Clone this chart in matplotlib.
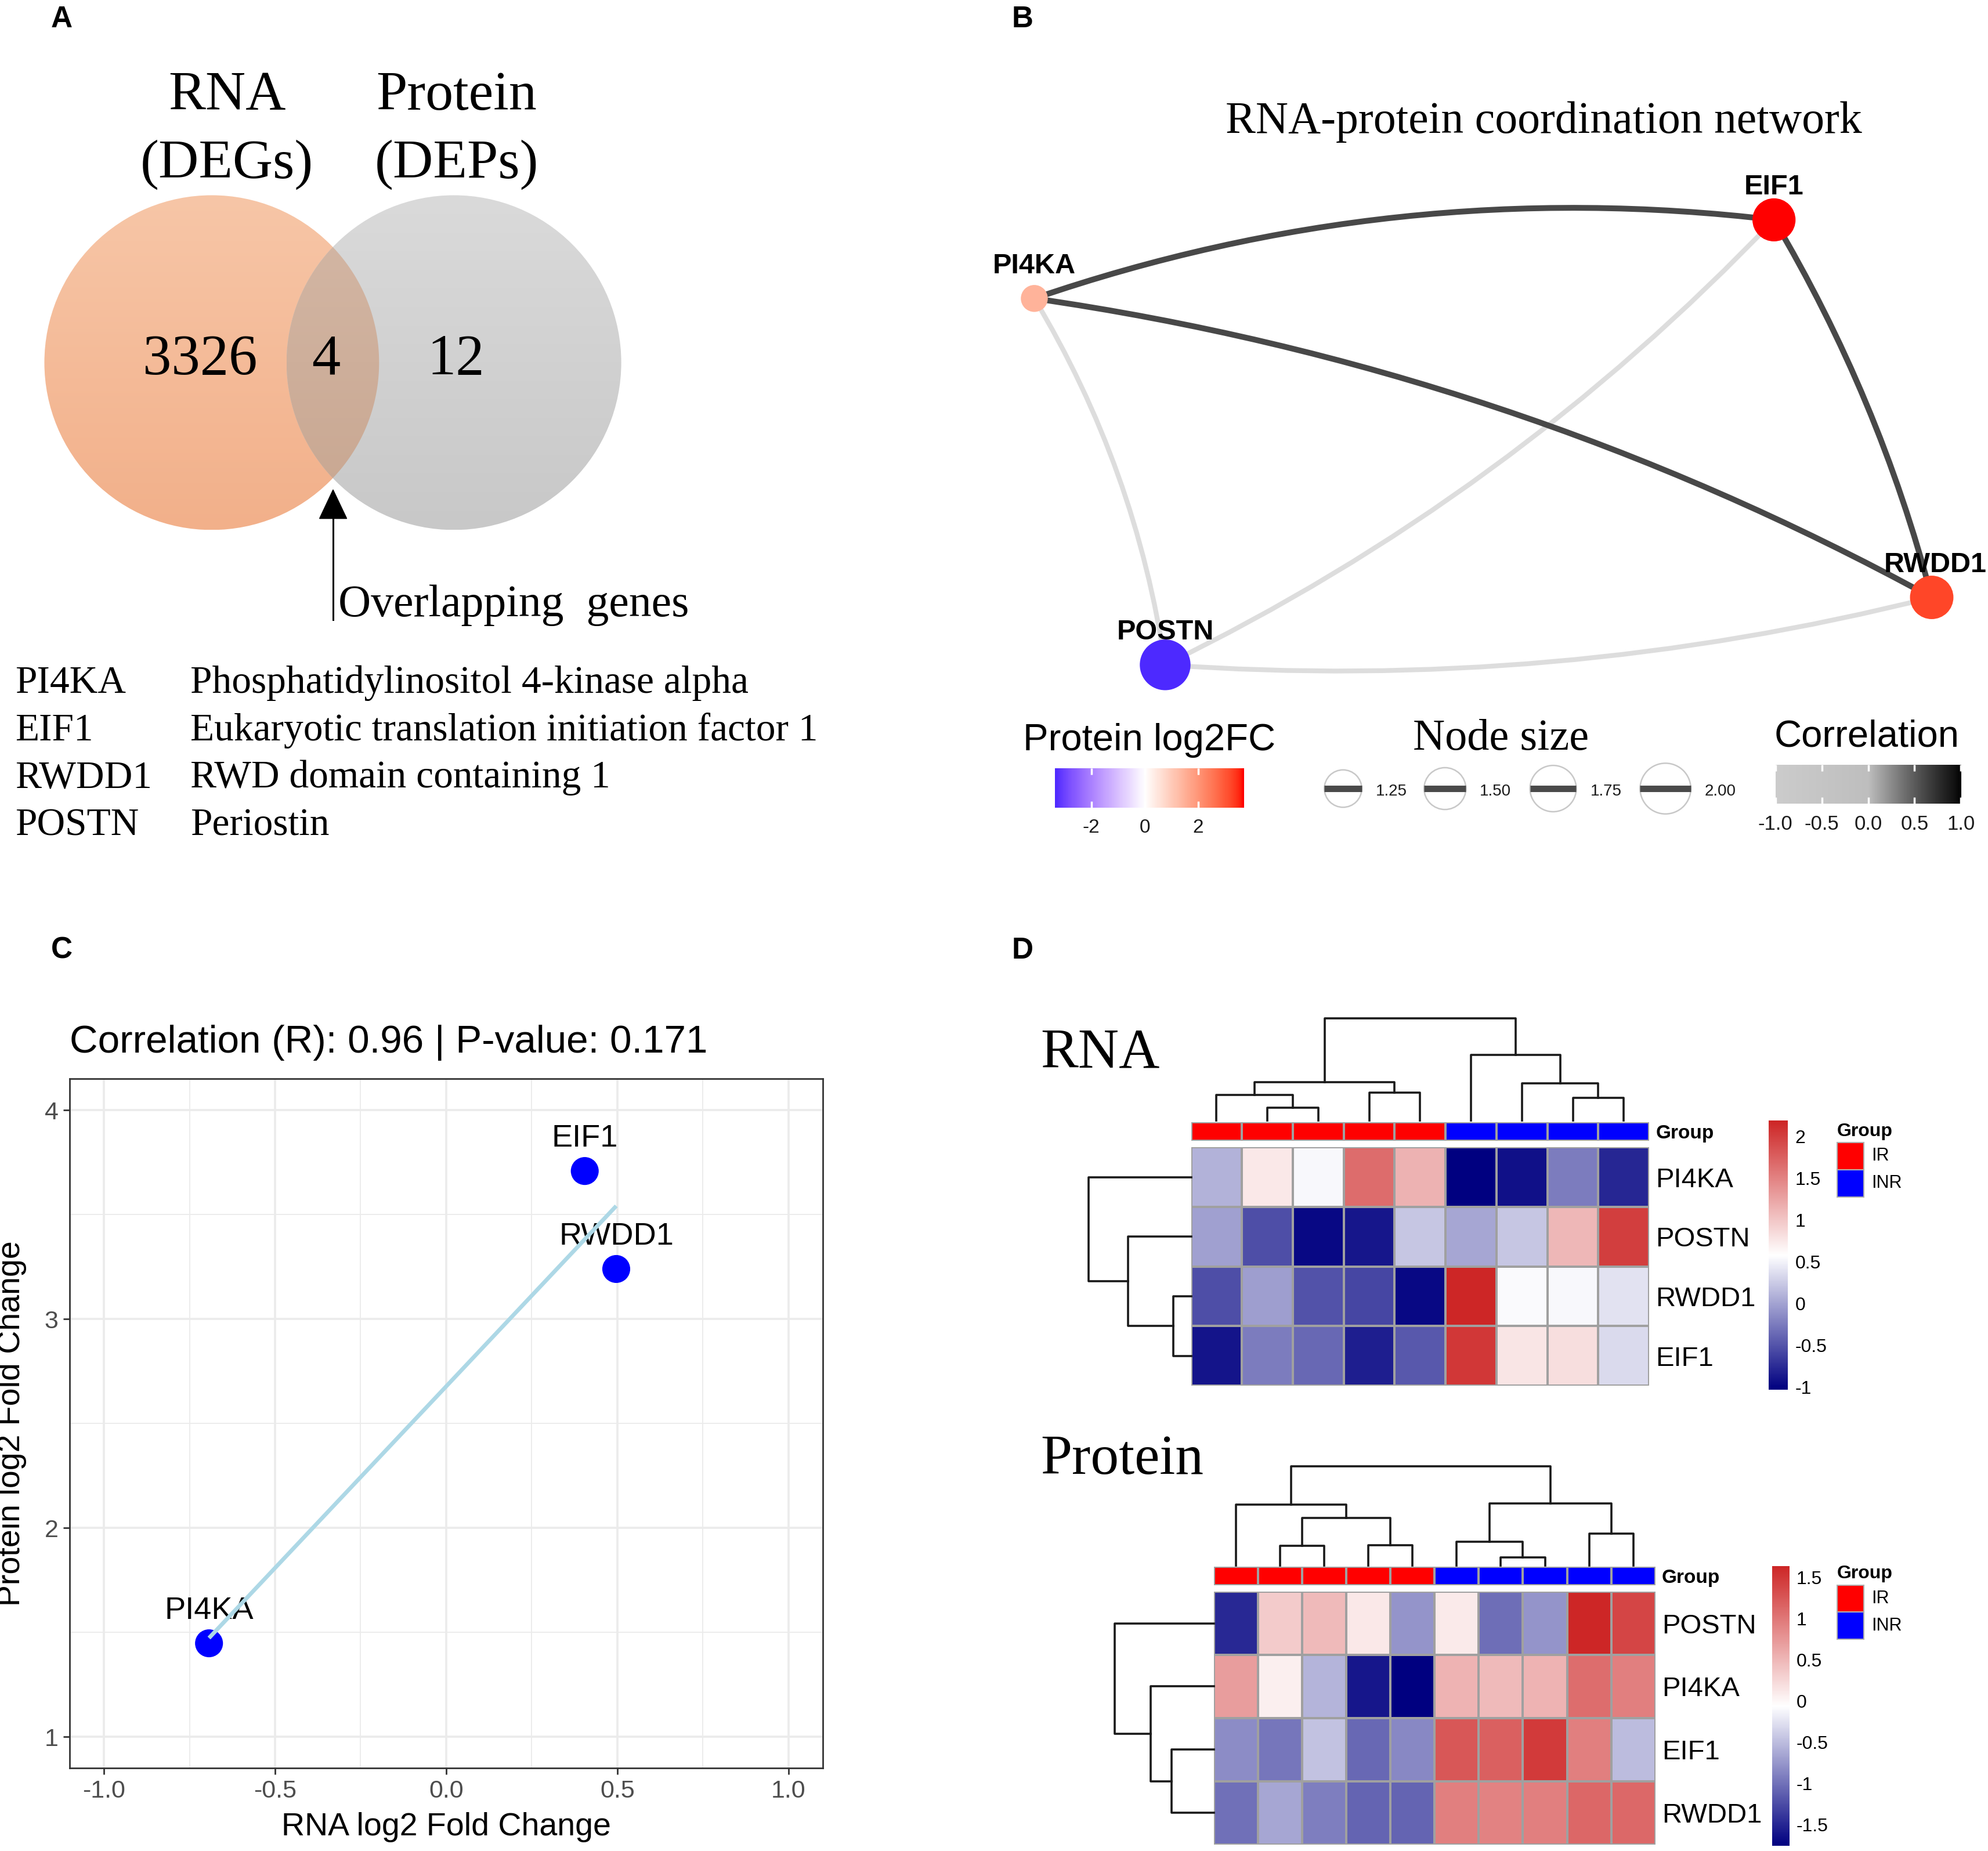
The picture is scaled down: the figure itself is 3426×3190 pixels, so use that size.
import numpy as np
import matplotlib
matplotlib.use('Agg')
import matplotlib.pyplot as plt
from matplotlib.cm import ScalarMappable
from matplotlib.colors import ListedColormap, LinearSegmentedColormap, Normalize, to_rgb
from matplotlib.patches import Circle, FancyArrowPatch, Rectangle, Polygon

# layout grid used for placing everything (reference pixels / 2.185)
W, H = 1568.0, 1460.0
SANS = 'Liberation Sans'
SERIF = 'Liberation Serif'

# ---------------- A: Venn ----------------
venn_sets = [('RNA', '(DEGs)'), ('Protein', '(DEPs)')]
venn_counts = [3326, 4, 12]          # RNA only, both, protein only
gene_ids = ['PI4KA', 'EIF1', 'RWDD1', 'POSTN']
gene_desc = ['Phosphatidylinositol 4-kinase alpha',
             'Eukaryotic translation initiation factor 1',
             'RWD domain containing 1',
             'Periostin']

# ---------------- B: network ----------------
net_nodes = ['PI4KA', 'EIF1', 'RWDD1', 'POSTN']
net_log2fc = [1.45, 3.71, 3.24, -3.36]
net_size = [0.66, 1.57, 1.59, 2.0]
net_edges = [('PI4KA', 'POSTN'), ('EIF1', 'POSTN'), ('POSTN', 'RWDD1'),
             ('PI4KA', 'EIF1'), ('PI4KA', 'RWDD1'), ('EIF1', 'RWDD1')]
net_corr = [-1.0, -1.0, -1.0, 0.6, 0.6, 0.6]
size_breaks = [1.25, 1.50, 1.75, 2.00]
fc_ticks = [-2, 0, 2]
corr_ticks = [-1.0, -0.5, 0.0, 0.5, 1.0]

# ---------------- C: scatter ----------------
sc_genes = ['PI4KA', 'EIF1', 'RWDD1']
sc_rna = [-0.693, 0.405, 0.497]
sc_prot = [1.448, 3.709, 3.24]
corr_r, corr_p = 0.96, 0.171

# ---------------- D: heatmaps ----------------
rna_rows = ['PI4KA', 'POSTN', 'RWDD1', 'EIF1']
rna_groups = ['IR'] * 5 + ['INR'] * 4
rna_vals = np.array([
    [0.10, 0.75, 0.53, 1.67, 1.15, -1.03, -0.92, -0.24, -0.79],
    [-0.02, -0.53, -0.97, -0.89, 0.22, 0.02, 0.22, 1.12, 2.01],
    [-0.53, -0.03, -0.51, -0.58, -0.97, 2.19, 0.55, 0.53, 0.40],
    [-0.90, -0.24, -0.37, -0.84, -0.47, 2.06, 0.77, 0.82, 0.35],
])
# trees: (height, left, right); ints are leaf positions
rna_col_tree = (4.04, (1.52, (1.02, 0, (0.52, 1, 2)), (1.12, 3, 4)),
                (2.59, 5, (1.47, 6, (0.91, 7, 8))))
rna_row_tree = (4.03, 0, (2.47, 1, (0.69, 2, 3)))
rna_ticks = [-1, -0.5, 0, 0.5, 1, 1.5, 2]

prot_rows = ['POSTN', 'PI4KA', 'EIF1', 'RWDD1']
prot_groups = ['IR'] * 5 + ['INR'] * 5
prot_vals = np.array([
    [-1.49, 0.34, 0.48, 0.12, -0.77, 0.10, -1.02, -0.77, 1.64, 1.39],
    [0.70, 0.07, -0.56, -1.61, -1.76, 0.53, 0.48, 0.53, 1.08, 0.94],
    [-0.82, -0.97, -0.46, -1.06, -0.85, 1.25, 1.18, 1.47, 0.94, -0.50],
    [-1.01, -0.65, -0.92, -1.09, -1.09, 0.94, 0.92, 0.94, 1.13, 1.11],
])
prot_col_tree = (3.90, (2.40, 0, (1.86, (0.76, 1, 2), (0.79, 3, 4))),
                 (2.44, (0.93, 5, (0.32, 6, 7)), (1.24, 8, 9)))
prot_row_tree = (3.92, 0, (2.50, 1, (1.67, 2, 3)))
prot_ticks = [-1.5, -1, -0.5, 0, 0.5, 1, 1.5]
group_names = ['IR', 'INR']
group_colors = ['#FF0000', '#0000FF']


def rect(x0, y0, x1, y1):
    return [x0 / W, 1 - y1 / H, (x1 - x0) / W, (y1 - y0) / H]


# CIELab interpolation (like ggplot gradients)
def _lab(rgb):
    c = np.asarray(rgb, float)
    lin = np.where(c > 0.04045, ((c + 0.055) / 1.055) ** 2.4, c / 12.92)
    M = np.array([[0.4124, 0.3576, 0.1805], [0.2126, 0.7152, 0.0722], [0.0193, 0.1192, 0.9505]])
    xyz = M @ lin / np.array([0.9505, 1.0, 1.089])
    f = np.where(xyz > 0.008856, np.cbrt(xyz), 7.787 * xyz + 16 / 116)
    return np.array([116 * f[1] - 16, 500 * (f[0] - f[1]), 200 * (f[1] - f[2])])


def _rgb(lab):
    L, a, b = lab
    fy = (L + 16) / 116
    f = np.array([fy + a / 500, fy, fy - b / 200])
    xyz = np.where(f > 0.2069, f ** 3, (f - 16 / 116) / 7.787) * np.array([0.9505, 1.0, 1.089])
    Minv = np.array([[3.2406, -1.5372, -0.4986], [-0.9689, 1.8758, 0.0415], [0.0557, -0.2040, 1.0570]])
    lin = Minv @ xyz
    c = np.where(lin > 0.0031308, 1.055 * np.clip(lin, 0, None) ** (1 / 2.4) - 0.055, 12.92 * lin)
    return np.clip(c, 0, 1)


def lab_cmap(colors, n=256):
    labs = [_lab(to_rgb(c)) for c in colors]
    out = []
    for t in np.linspace(0, 1, n):
        seg = min(int(t * (len(labs) - 1)), len(labs) - 2)
        u = t * (len(labs) - 1) - seg
        out.append(_rgb(labs[seg] * (1 - u) + labs[seg + 1] * u))
    return ListedColormap(out)


fig = plt.figure(figsize=(34.26, 31.90), dpi=100)
ov = fig.add_axes([0, 0, 1, 1])
ov.set_autoscale_on(False)
ov.set_xlim(0, W)
ov.set_ylim(H, 0)
ov.axis('off')

for lab, x, y in [('A', 40, 21.6), ('B', 798, 21.7), ('C', 40, 756), ('D', 798, 756)]:
    ov.text(x, y, lab, family=SANS, fontsize=37, fontweight='bold', va='baseline')

# ---------------- panel A ----------------
venn_xy = [(167, 286), (358, 286)]
venn_r = 132
venn_grad = [('#F7C6A7', '#F2B08A'), ('#DADADA', '#C8C8C8')]


def grad_fill(clip, top, bot, y0, y1, x0, x1):
    g = np.linspace(0, 1, 256)[:, None, None]
    img = (1 - g) * np.array(to_rgb(top)) + g * np.array(to_rgb(bot))
    img = np.repeat(img, 2, axis=1)
    im = ov.imshow(img, extent=(x0, x1, y1, y0), origin='upper', aspect='auto',
                   interpolation='bilinear', zorder=1)
    im.set_clip_path(clip)


for (cx, cy), (top, bot) in zip(venn_xy, venn_grad):
    c = Circle((cx, cy), venn_r, facecolor='none', edgecolor='none')
    ov.add_patch(c)
    grad_fill(c, top, bot, cy - venn_r, cy + venn_r, cx - venn_r, cx + venn_r)

(c1x, c1y), (c2x, c2y) = venn_xy
th = np.arccos((c2x - c1x) / (2 * venn_r))
a1 = np.linspace(-th, th, 200)
a2 = np.linspace(np.pi - th, np.pi + th, 200)
lens_pts = np.vstack([np.c_[c1x + venn_r * np.cos(a1), c1y + venn_r * np.sin(a1)],
                      np.c_[c2x + venn_r * np.cos(a2), c2y + venn_r * np.sin(a2)]])
lens = Polygon(lens_pts, closed=True, facecolor='none', edgecolor='none')
ov.add_patch(lens)
grad_fill(lens, '#D4B8A6', '#C8A690', c1y - venn_r, c1y + venn_r, c2x - venn_r, c1x + venn_r)

for (name, sub), cx in zip(venn_sets, [179, 360]):
    ov.text(cx, 86.4, name, family=SERIF, fontsize=69, ha='center', va='baseline')
    ov.text(cx, 140.4, sub, family=SERIF, fontsize=69, ha='center', va='baseline')

for n, x in zip(venn_counts, [158, 257.3, 359.8]):
    ov.text(x, 295, str(n), family=SERIF, fontsize=71, ha='center', va='baseline', zorder=3)

ov.plot([262.7, 262.7], [405, 489], color='black', lw=2.2, zorder=3)
ov.add_patch(Polygon([(252, 409), (273.5, 409), (262.7, 386.3)], closed=True,
                     facecolor='black', edgecolor='black', zorder=3))
ov.text(267, 486, 'Overlapping  genes', family=SERIF, fontsize=56, va='baseline')

for i, (gid, desc) in enumerate(zip(gene_ids, gene_desc)):
    yb = 546.5 + 37.4 * i
    ov.text(11.8, yb, gid, family=SERIF, fontsize=48.5, va='baseline')
    ov.text(150.2, yb, desc, family=SERIF, fontsize=48.5, va='baseline')

# ---------------- panel B ----------------
ov.text(1217.5, 105, 'RNA-protein coordination network', family=SERIF, fontsize=56,
        ha='center', va='baseline')

node_xy = {'PI4KA': (815.8, 235.4), 'EIF1': (1399.2, 173.4),
           'RWDD1': (1523.6, 471.2), 'POSTN': (919.0, 524.4)}
edge_rad = [-0.10, -0.09, 0.08, -0.114, -0.09, -0.07]

edge_cmap = lab_cmap(['#CCCCCC', '#BEBEBE', '#000000'])
corr_norm = Normalize(-1, 1)
fc_cmap = lab_cmap(['#0000FF', '#FFFFFF', '#FF0000'])
fc_lim = max(abs(v) for v in net_log2fc)
fc_norm = Normalize(-fc_lim, fc_lim)


def node_radius(s):
    return 6 + 7 * s


for (a, b), corr, rad in zip(net_edges, net_corr, edge_rad):
    e = FancyArrowPatch(node_xy[a], node_xy[b], connectionstyle=f'arc3,rad={rad}',
                        arrowstyle='-', color=edge_cmap(corr_norm(corr)),
                        alpha=1.0 if corr > 0 else 0.65,
                        lw=7.2 if corr > 0 else 6.0, shrinkA=0, shrinkB=0,
                        zorder=2 if corr > 0 else 1)
    e.set_capstyle('round')
    ov.add_patch(e)

for name, fc, s in zip(net_nodes, net_log2fc, net_size):
    x, y = node_xy[name]
    ov.add_patch(Circle((x, y), node_radius(s), facecolor=fc_cmap(fc_norm(fc)),
                        edgecolor='none', zorder=4))
    ov.text(x + (3 if name == 'RWDD1' else 0), y - 20, name, family=SANS, fontsize=35,
            fontweight='bold', ha='center', va='baseline', zorder=5)

# legend: protein log2FC
ov.text(906.5, 591.8, 'Protein log2FC', family=SANS, fontsize=47, ha='center', va='baseline')
fc_lo, fc_hi = min(net_log2fc), max(net_log2fc)
cax = fig.add_axes(rect(832, 606, 981, 637))
grad = np.linspace(fc_lo, fc_hi, 256)[None, :]
cax.imshow(grad, cmap=fc_cmap, norm=fc_norm, aspect='auto', extent=(fc_lo, fc_hi, 0, 1))
cax.set_yticks([])
cax.set_xticks(fc_ticks)
cax.set_xticklabels([str(t) for t in fc_ticks], family=SANS, fontsize=24, color='#1A1A1A')
cax.tick_params(axis='x', direction='in', length=8, width=2.5, color='white',
                top=True, bottom=True, pad=14)
for sp in cax.spines.values():
    sp.set_visible(False)

# legend: node size
ov.text(1183.7, 591.3, 'Node size', family=SERIF, fontsize=55, ha='center', va='baseline')
for s, kx in zip(size_breaks, [1059.3, 1139.7, 1225.0, 1313.6]):
    r = node_radius(s)
    ov.add_patch(Circle((kx, 622), r, facecolor='white', edgecolor='#C8C8C8', lw=1.8, zorder=3))
    ov.plot([kx - r, kx + r], [622, 622], color='#4A4A4A', lw=8, solid_capstyle='butt', zorder=4)
    ov.text(kx + r + 11, 627.4, f'{s:.2f}', family=SANS, fontsize=20, color='#1A1A1A',
            va='baseline')

# legend: correlation
ov.text(1472.5, 589, 'Correlation', family=SANS, fontsize=47, ha='center', va='baseline')
cax2 = fig.add_axes(rect(1400.4, 603, 1546.6, 633.8))
cax2.imshow(np.linspace(-1, 1, 256)[None, :], cmap=edge_cmap, norm=corr_norm, aspect='auto',
            extent=(-1, 1, 0, 1))
cax2.set_yticks([])
cax2.set_xticks(corr_ticks)
cax2.set_xticklabels([f'{t:.1f}' for t in corr_ticks], family=SANS, fontsize=25, color='#1A1A1A')
cax2.tick_params(axis='x', direction='in', length=8, width=2.5, color='white',
                 top=True, bottom=True, pad=14)
for sp in cax2.spines.values():
    sp.set_visible(False)

# ---------------- panel C ----------------
axc = fig.add_axes(rect(55, 851, 648.8, 1394.7))
axc.set_xlim(-1.1, 1.1)
axc.set_ylim(0.85, 4.15)
axc.set_xticks([-1.0, -0.5, 0.0, 0.5, 1.0])
axc.set_xticks([-0.75, -0.25, 0.25, 0.75], minor=True)
axc.set_yticks([1, 2, 3, 4])
axc.set_yticks([1.5, 2.5, 3.5], minor=True)
axc.set_xticklabels(['-1.0', '-0.5', '0.0', '0.5', '1.0'])
axc.grid(which='major', color='#EBEBEB', lw=2.6)
axc.grid(which='minor', color='#EBEBEB', lw=1.3)
axc.set_axisbelow(True)
axc.tick_params(which='major', length=8, width=2, color='#333333', labelsize=31,
                labelcolor='#4D4D4D', pad=6)
axc.tick_params(which='minor', length=0)
for lab in axc.get_xticklabels() + axc.get_yticklabels():
    lab.set_family(SANS)
for sp in axc.spines.values():
    sp.set_color('#333333')
    sp.set_linewidth(2)

axc.scatter(sc_rna, sc_prot, s=1200, color='blue', edgecolors='none', zorder=2)
for g, x, y in zip(sc_genes, sc_rna, sc_prot):
    axc.annotate(g, (x, y), xytext=(0, 30), textcoords='offset points', ha='center',
                 va='baseline', family=SANS, fontsize=39, zorder=3)
fit = np.polyfit(sc_rna, sc_prot, 1)
xs = np.array([min(sc_rna), max(sc_rna)])
axc.plot(xs, np.polyval(fit, xs), color='#ADD8E6', lw=5, solid_capstyle='butt', zorder=4)

axc.text(0, 1.0386, f'Correlation (R): {corr_r} | P-value: {corr_p}', transform=axc.transAxes,
         family=SANS, fontsize=48.5, va='baseline')
axc.set_xlabel('RNA log2 Fold Change', family=SANS, fontsize=40)
axc.set_ylabel('Protein log2 Fold Change', family=SANS, fontsize=40)
axc.xaxis.set_label_coords(0.5, -0.064)
axc.yaxis.set_label_coords(-0.057, 0.5)

# ---------------- panel D ----------------
heat_cmap = LinearSegmentedColormap.from_list('nwf', ['#000080', '#FFFFFF', '#CD2626'])
grp_cmap = ListedColormap(group_colors)


def draw_tree(ax, node, top):
    if isinstance(node, int):
        return node + 0.5, 0.0
    h, a, b = node
    pa, ha = draw_tree(ax, a, top)
    pb, hb = draw_tree(ax, b, top)
    p = [pa, pa, pb, pb]
    q = [ha, h, h, hb]
    if top:
        ax.plot(p, q, color='#1A1A1A', lw=2.6, clip_on=False, solid_capstyle='projecting')
    else:
        ax.plot(q, p, color='#1A1A1A', lw=2.6, clip_on=False, solid_capstyle='projecting')
    return (pa + pb) / 2, h


def heatmap(vals, rows, groups, col_tree, row_tree, ticks, L):
    nr, nc = vals.shape
    x0, x1 = L['x']
    norm = Normalize(vals.min(), vals.max())

    ax = fig.add_axes(rect(x0, L['hy'][0], x1, L['hy'][1]))
    ax.pcolormesh(vals, cmap=heat_cmap, norm=norm, edgecolors='#A0A0A0', linewidth=1.5)
    ax.set_xlim(0, nc)
    ax.set_ylim(nr, 0)
    ax.set_xticks([])
    ax.yaxis.tick_right()
    ax.set_yticks(np.arange(nr) + 0.5)
    ax.set_yticklabels(rows, family=SANS, fontsize=34)
    ax.tick_params(axis='y', length=0, pad=L['pad'])
    for sp in ax.spines.values():
        sp.set_visible(False)

    axa = fig.add_axes(rect(x0, L['ay'][0], x1, L['ay'][1]))
    codes = np.array([[group_names.index(g) for g in groups]])
    axa.pcolormesh(codes, cmap=grp_cmap, vmin=0, vmax=1, edgecolors='#A0A0A0', linewidth=1.5)
    axa.set_xlim(0, nc)
    axa.set_xticks([])
    axa.yaxis.tick_right()
    axa.set_yticks([0.5])
    axa.set_yticklabels(['Group'], family=SANS, fontsize=24, fontweight='bold')
    axa.tick_params(axis='y', length=0, pad=L['pad'])
    for sp in axa.spines.values():
        sp.set_visible(False)

    axt = fig.add_axes(rect(x0, L['cy'][0], x1, L['cy'][1]))
    axt.set_xlim(0, nc)
    axt.set_ylim(0, col_tree[0])
    draw_tree(axt, col_tree, True)
    axt.axis('off')

    axr = fig.add_axes(rect(L['rx'], L['hy'][0], x0, L['hy'][1]))
    axr.set_ylim(nr, 0)
    axr.set_xlim(row_tree[0], 0)
    draw_tree(axr, row_tree, False)
    axr.axis('off')

    cx = fig.add_axes(rect(*L['cb']))
    cb = fig.colorbar(ScalarMappable(norm=norm, cmap=heat_cmap), cax=cx, ticks=ticks)
    cb.outline.set_visible(False)
    cb.set_ticklabels([f'{t:g}' for t in ticks])
    cx.tick_params(length=0, labelsize=23, pad=9)
    for lab in cx.get_yticklabels():
        lab.set_family(SANS)

    lx, ty = L['leg']
    ov.text(lx, ty, 'Group', family=SANS, fontsize=23, fontweight='bold', va='baseline')
    for i, (gn, gc) in enumerate(zip(group_names, group_colors)):
        by = ty + 5.2 + 21.4 * i
        ov.add_patch(Rectangle((lx, by), 21, 21.4, facecolor=gc, edgecolor='#B0B0B0', lw=1.5))
        ov.text(lx + 27, by + 10.7, gn, family=SANS, fontsize=22, va='center')

    ov.text(820.6, L['title_y'], L['title'], family=SERIF, fontsize=70, va='baseline')


heatmap(rna_vals, rna_rows, rna_groups, rna_col_tree, rna_row_tree, rna_ticks,
        dict(x=(939.4, 1300.8), hy=(905, 1093), ay=(885.1, 899.8), cy=(803.2, 884),
             rx=858.7, pad=8, cb=(1395, 884, 1410, 1096), leg=(1449, 896),
             title='RNA', title_y=842))
heatmap(prot_vals, prot_rows, prot_groups, prot_col_tree, prot_row_tree, prot_ticks,
        dict(x=(957.5, 1305.6), hy=(1255.5, 1454.8), ay=(1235.7, 1250.3), cy=(1156.6, 1234.6),
             rx=879.2, pad=8, cb=(1397.6, 1235.2, 1411.3, 1455.9), leg=(1449, 1245),
             title='Protein', title_y=1162.6))

ov.set_xlim(0, W)
ov.set_ylim(H, 0)
fig.savefig('out.png', dpi=100)
